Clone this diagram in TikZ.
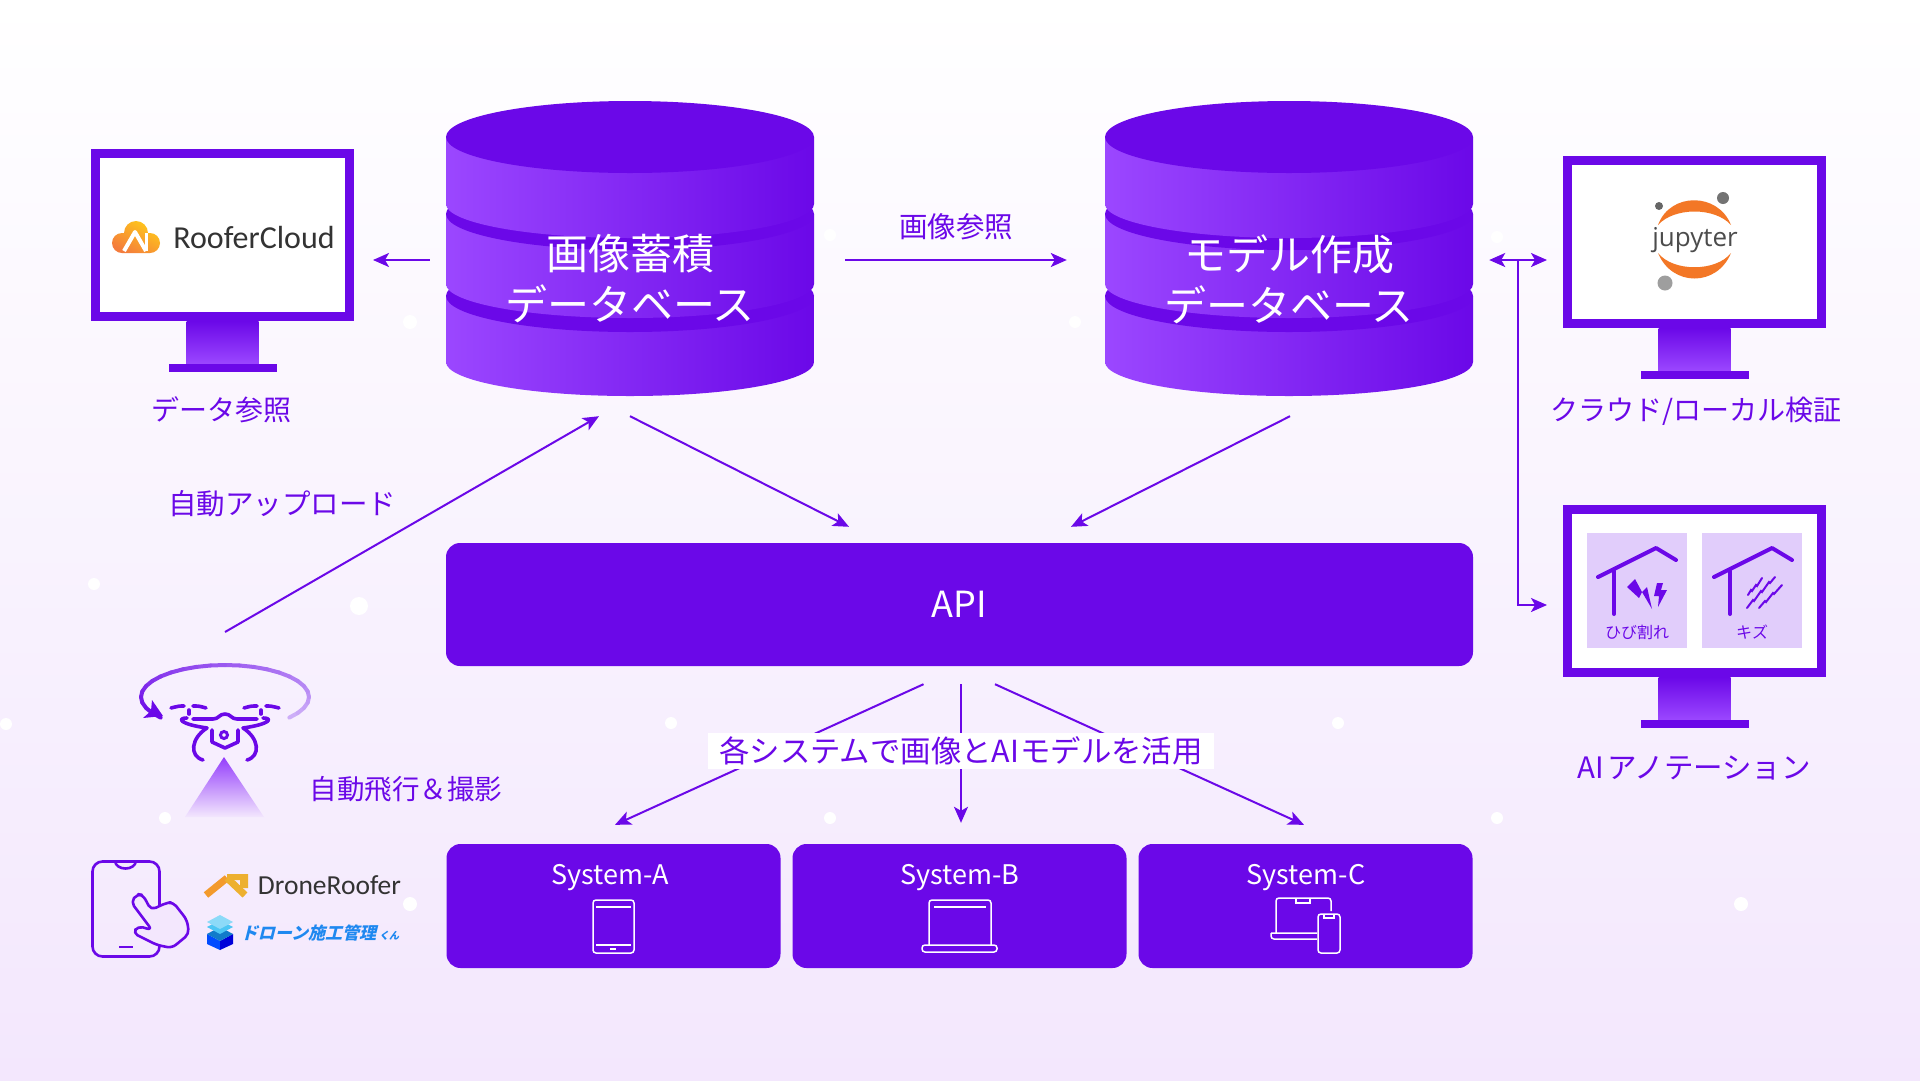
\documentclass[tikz,border=0pt]{standalone}
\usepackage{fontspec}
\setmainfont{Noto Sans CJK JP}
\newfontfamily\logofont{Carlito}
\newfontfamily\jupfont{Open Sans}
\newfontfamily\kanrifont[FakeSlant=0.25,BoldFeatures={FakeSlant=0.25}]{Noto Sans CJK JP}
\usetikzlibrary{arrows.meta,positioning,calc}
\definecolor{VioletMain}{HTML}{6B08E8}
\definecolor{VioletPale}{HTML}{9B47FF}
\definecolor{OrbitPale}{HTML}{CDAEF8}
\definecolor{PanelLilac}{HTML}{E1CDFB}
\definecolor{BackLilac}{HTML}{F3E7FD}
\definecolor{JupOrange}{HTML}{F37726}
\definecolor{KanriBlue}{HTML}{1E88F0}
\definecolor{CloudTop}{HTML}{FFC91A}
\definecolor{CloudLow}{HTML}{F47C3C}
\definecolor{RoofLeft}{HTML}{F39A2C}
\definecolor{RoofRight}{HTML}{EDB02F}
\newcommand{\pxfont}[1]{\fontsize{#1}{#1}\selectfont}
\tikzset{
  link/.style={draw=VioletMain,line width=2pt,-{Stealth[length=16pt,width=14pt,inset=4pt]}},
  bothlink/.style={link,{Stealth[length=16pt,width=14pt,inset=4pt]}-{Stealth[length=16pt,width=14pt,inset=4pt]}},
  caption/.style={text=VioletMain,font=\pxfont{28},inner sep=0pt},
  dbtext/.style={text=white,font=\fontsize{42}{51}\selectfont,align=center,inner sep=0pt},
  dbspan/.style={inner sep=0pt,minimum width=368pt,minimum height=272pt},
  solidbox/.style={fill=VioletMain,rounded corners=14pt,inner sep=0pt},
  syslabel/.style={text=white,font=\pxfont{27},inner sep=0pt},
  screen/.style={draw=VioletMain,fill=white,line width=9pt,minimum width=254pt,minimum height=163pt,inner sep=0pt,anchor=north west},
  panelbox/.style={fill=PanelLilac,minimum width=100pt,minimum height=115pt,inner sep=0pt,anchor=north west},
  thinicon/.style={draw=white,line width=1.5pt,rounded corners=3pt},
  droneline/.style={draw=VioletMain,line width=3.6pt,line cap=round,line join=round},
  houseline/.style={draw=VioletMain,line width=4pt,line cap=round,line join=round},
  scratchline/.style={draw=VioletMain,line width=2pt,line cap=round},
}

\begin{document}
\begin{tikzpicture}[x=1pt,y=-1pt]
  \useasboundingbox (0,0) rectangle (1920,1080);
  \shade[top color=white,bottom color=BackLilac] (0,0) rectangle (1920,1080);
  \foreach \dx/\dy/\dr in {94/584/6,359/606/9,6/724/6,165/818/6,671/723/6,830/818/6,1338/723/6,1497/818/6,1741/904/7,410/904/7,410/322/7,1075/322/6,830/235/6,1497/237/6}
    \fill[white] (\dx,\dy) circle (\dr pt);

  \foreach \cx in {630,1289}
    \foreach \top/\bot in {296/362,214/284,137/204} {
      \shade[left color=VioletPale,right color=VioletMain]
        (\cx-184,\top) -- (\cx-184,\bot)
        .. controls +(0,18.8) and +(-101.6,0) .. ++(184,34)
        .. controls +(101.6,0) and +(0,18.8) .. ++(184,-34)
        -- (\cx+184,\top) -- cycle;
      \fill[VioletMain] (\cx,\top) ellipse [x radius=184pt,y radius=36pt];
    }
  \node[dbspan] (dbimg) at (630,260) {};
  \node[dbtext] (dbimgtext) at (630,279) {画像蓄積\\データベース};
  \node[dbspan] (dbmodel) at (1289,260) {};
  \node[dbtext] (dbmodeltext) at (1289,279) {モデル作成\\データベース};

  \foreach \name/\mx/\my in {monroof/91/149,monjup/1563/156,monai/1563/505} {
    \node[screen] (\name) at (\mx,\my) {};
    \shade[top color=VioletMain,bottom color=VioletPale] ($(\name.south)+(-36,0)$) rectangle ($(\name.south)+(36,43)$);
    \fill[VioletMain] ($(\name.south)+(-54,43)$) rectangle ($(\name.south)+(54,51)$);
  }

  \node[solidbox,minimum width=1027pt,minimum height=123pt] (api) at (959.5,604.5) {};
  \node[text=white,font=\pxfont{36},inner sep=0pt] (apitext) at (api) {API};
  \node[solidbox,minimum width=334pt,minimum height=124pt] (sysa) at (613.5,906) {};
  \node[solidbox,minimum width=334pt,minimum height=124pt] (sysb) at (959.5,906) {};
  \node[solidbox,minimum width=334pt,minimum height=124pt] (sysc) at (1305.5,906) {};
  \node[syslabel] (sysatext) at (610,878) {System-A};
  \node[syslabel] (sysbtext) at (960,878) {System-B};
  \node[syslabel] (sysctext) at (1306,878) {System-C};

  \draw[thinicon] (593,900) rectangle (634,953);
  \draw[white,line width=1.5pt] (596,907) -- (631,907) (596,945) -- (631,945) (610,949) -- (616,949);
  \draw[thinicon] (929,945) -- (929,900) -- (991,900) -- (991,945);
  \draw[white,line width=1.5pt] (934,907) -- (986,907);
  \draw[thinicon] (922,945) rectangle (997,952);
  \draw[thinicon] (1276,933) -- (1276,898) -- (1331,898) -- (1331,911);
  \draw[white,line width=1.5pt] (1296,898) -- (1296,903) -- (1310,903) -- (1310,898);
  \draw[thinicon] (1271,933) -- (1317,933) (1317,939) -- (1271,939) -- (1271,933);
  \draw[thinicon] (1318,914) rectangle (1340,953);
  \draw[white,line width=1.5pt] (1324,914) -- (1324,918) -- (1334,918) -- (1334,914);

  \coordinate (dronetop) at (225,632);
  \coordinate (branch) at ($(dbmodel.east)+(45,0)$);
  \draw[link,shorten <=16pt,shorten >=19pt] (dbimg.west) -- (dbimg.west -| monroof.east);
  \draw[link,shorten <=31pt,shorten >=38pt] (dbimg.east) -- (dbmodel.west);
  \draw[link] (dronetop) -- ($(dbimg.south)+(-31,20)$);
  \draw[link] ($(dbimg.south)+(0,20)$) -- ($(api.north)+(-110.5,-16)$);
  \draw[link] ($(dbmodel.south)+(1,20)$) -- ($(api.north)+(111.5,-16)$);
  \draw[bothlink,shorten <=16pt,shorten >=16pt] (dbmodel.east) -- (dbmodel.east -| monjup.west);
  \draw[link] (branch) |- ($(monai.west)+(-16,14)$);
  \draw[link] ($(api.south)+(-36,18)$) -- ($(sysa.north)+(1.5,-19)$);
  \draw[link] ($(api.south)+(1.5,18)$) -- ($(sysb.north)+(1.5,-21)$);
  \draw[link] ($(api.south)+(35.5,18)$) -- ($(sysc.north)+(-1.5,-19)$);

  \node[fill=white,text=VioletMain,font=\pxfont{30.4},minimum width=506pt,minimum height=36pt,inner sep=0pt] (usenote) at (961,751) {各システムで画像とAI\hspace{1pt}モデルを活用};
  \node[caption,font=\pxfont{28.5}] (refnote) at (956,227) {画像参照};
  \node[caption] (viewnote) at (221,410) {データ参照};
  \node[caption,font=\pxfont{28.5}] (uploadnote) at (282,504) {自動アップロード};
  \node[caption,font=\pxfont{27.5}] (flightnote) at (406,789) {自動飛行＆撮影};
  \node[caption] (verifynote) at (1696,411) {クラウド/ローカル検証};
  \node[caption,font=\pxfont{29.5}] (annotnote) at (1694,768) {AI\hspace{4pt}アノテーション};

  \shade[top color=CloudTop,bottom color=CloudLow,shading angle=-30]
    (136,233) circle (12pt) (122,243) circle (10pt) (150,243) circle (10pt) (122,233) rectangle (150,253);
  \draw[white,line width=4pt,line join=round] (124,251) -- (135,232) -- (146,251);
  \draw[white,line width=3pt] (146,251) -- (146,233);
  \node[text=black!80,font=\logofont\pxfont{32},inner sep=0pt] (rooferlogo) at (254,238) {RooferCloud};

  \fill[JupOrange] (1658,225) .. controls (1670,192) and (1718,192) .. (1731,225) .. controls (1715,207) and (1674,207) .. cycle;
  \fill[JupOrange] (1658,253) .. controls (1672,287) and (1717,287) .. (1731,253) .. controls (1716,272) and (1673,272) .. cycle;
  \fill[black!60] (1659,206) circle (4pt);
  \fill[black!55] (1723,198) circle (6pt);
  \fill[black!38] (1665,283) circle (7.5pt);
  \node[text=black!70,font=\jupfont\pxfont{26},inner sep=0pt] (jupyterlogo) at (1695,240) {jupyter};

  \node[panelbox] (crack) at (1587,533) {};
  \node[panelbox] (scratch) at (1702,533) {};
  \foreach \px in {0,116} {
    \draw[houseline] (1598+\px,577) -- (1656+\px,548) -- (1676+\px,560);
    \draw[houseline] (1614+\px,571) -- (1614+\px,614);
  }
  \fill[VioletMain] (1635,579) -- (1627,587) -- (1639,598) -- (1642,592) -- (1652,609) -- (1647,587) -- (1642,592) -- cycle;
  \fill[VioletMain] (1657,583) -- (1663,583) -- (1661,590) -- (1667,590) -- (1658,607) -- (1659,596) -- (1654,596) -- cycle;
  \draw[scratchline] (1748,595) -- (1751,590) -- (1752,591) -- (1756,585) -- (1757,586) -- (1762,578);
  \draw[scratchline] (1747,608) -- (1753,600) -- (1754,601) -- (1761,591) -- (1762,592) -- (1769,582) -- (1770,583) -- (1775,577);
  \draw[scratchline] (1759,608) -- (1765,601) -- (1766,602) -- (1773,593) -- (1774,594) -- (1782,585);
  \node[text=VioletMain,font=\pxfont{16},inner sep=0pt] (cracktext) at (crack.center |- 0,632) {ひび割れ};
  \node[text=VioletMain,font=\pxfont{16},inner sep=0pt] (scratchtext) at (scratch.center |- 0,632) {キズ};

  \foreach \a in {-40,-30,...,210}
    \draw[line width=4pt,line cap=round,color=VioletMain!\the\numexpr(\a+40)*100/250\relax!OrbitPale]
      ({225+84*cos(\a)},{697-32*sin(\a)}) -- ({225+84*cos(\a+10)},{697-32*sin(\a+10)});
  \fill[VioletMain] (163,716) -- (143,718) -- (151,711) -- (152,700) -- cycle;
  \foreach \sx in {1,-1} {
    \begin{scope}[shift={(225,0)},xscale=\sx]
      \draw[droneline] (-54,708) .. controls (-46,706) .. (-41,706) (-32,706) .. controls (-26,706) .. (-19,708);
      \draw[droneline] (-36,710) -- (-36,714);
      \draw[droneline] (-32,719) -- (-12,719) .. controls (-6,719) and (-6,714) .. (0,714);
      \draw[droneline] (-38,718) .. controls (-48,718) and (-46,724) .. (-18,728) .. controls (-34,738) and (-36,756) .. (-22,760);
      \draw[droneline] (-13,730) -- (-13,742) -- (0,748);
    \end{scope}
  }
  \draw[VioletMain,line width=3pt] (224,735) circle (3.5pt);
  \shade[top color=VioletPale!85!VioletMain,bottom color=BackLilac] (224,757) -- (264,817) -- (185,817) -- cycle;

  \draw[VioletMain,line width=2.6pt,rounded corners=10pt] (92.5,861.5) rectangle (159.5,956.5);
  \draw[VioletMain,line width=2.6pt] (115,861) .. controls (116,871) and (135,871) .. (136,861);
  \draw[VioletMain,line width=2.6pt] (119,947) -- (133,947);
  \filldraw[draw=VioletMain,fill=BackLilac,line width=2.6pt,rounded corners=5pt,line join=round]
    (137,894) -- (131,902) -- (152,930) -- (138,926) -- (133,933) -- (157,945) -- (172,948)
    -- (189,934) -- (187,920) -- (173,902) -- (166,903) -- (151,910) -- (143,895) -- cycle;

  \draw[RoofLeft,line width=7pt] (206,895) -- (227,878);
  \draw[RoofRight,line width=7pt] (227,878) -- (245,895);
  \fill[RoofRight] (227,874) rectangle (248,880) (240,874) rectangle (248,888);
  \node[text=black!80,font=\logofont\pxfont{27.5},inner sep=0pt] (droneroofer) at (329.5,885) {DroneRoofer};

  \fill[blue!70!cyan] (207,934) -- (220,941) -- (220,950) -- (207,944) -- cycle;
  \fill[blue!85!black] (233,934) -- (220,941) -- (220,950) -- (233,944) -- cycle;
  \fill[cyan!60!blue] (207,934) -- (220,927) -- (233,934) -- (220,941) -- cycle;
  \fill[cyan!70!white] (207,927) -- (220,920) -- (233,927) -- (220,934) -- cycle;
  \fill[cyan!45!white] (207,922) -- (220,915) -- (233,922) -- (220,929) -- cycle;
  \node[text=KanriBlue,font=\kanrifont\bfseries\pxfont{17},inner sep=0pt] (kanrilogo) at (320,933) {ドローン施工管理\hspace{3pt}{\pxfont{10}くん}};
\end{tikzpicture}
\end{document}
